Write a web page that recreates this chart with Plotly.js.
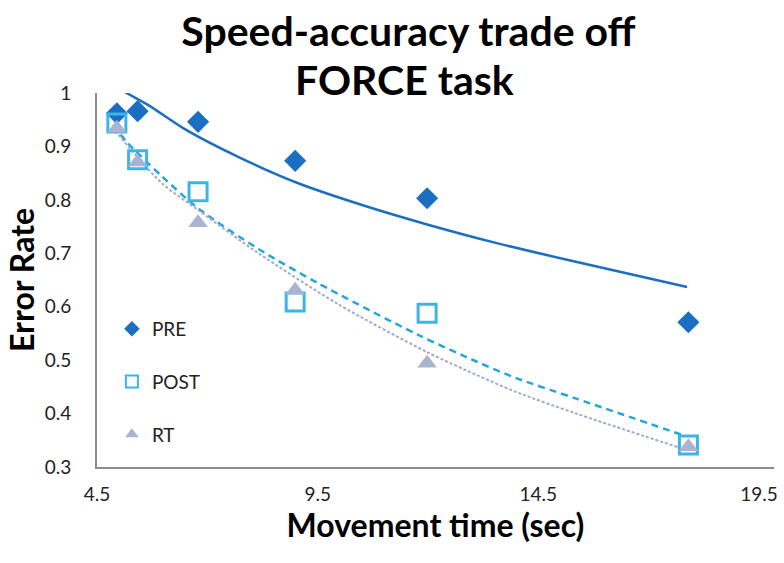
<!DOCTYPE html>
<html>
<head>
<meta charset="utf-8">
<script src="https://cdn.plot.ly/plotly-3.0.1.min.js"></script>
<style>
  html, body { margin: 0; padding: 0; background: #fff; }
  #chart { width: 784px; height: 563px; }
</style>
</head>
<body>
<div id="chart"></div>
<script>
// Speed-accuracy trade off, FORCE task: error rate vs movement time,
// three sessions plus their fitted trend curves.

const moveTime = [4.95, 5.42, 6.79, 8.99, 11.98, 17.9];
const errPre  = [0.962, 0.966, 0.946, 0.873, 0.803, 0.571];
const errPost = [0.944, 0.875, 0.815, 0.609, 0.588, 0.341];
const errRt   = [0.934, 0.871, 0.757, 0.631, 0.494, 0.338];

// trend curves
const preTrendX  = [4.90, 5.13, 5.69, 6.52, 7.71, 9.06, 10.63, 11.98, 13.56, 15.35, 17.87];
const preTrendY  = [1.014, 1.002, 0.976, 0.931, 0.880, 0.831, 0.787, 0.754, 0.719, 0.684, 0.637];
const postTrendX = [4.86, 5.20, 5.96, 6.81, 8.16, 9.51, 11.76, 13.11, 14.01, 15.36, 17.83];
const postTrendY = [0.940, 0.906, 0.845, 0.783, 0.708, 0.644, 0.548, 0.497, 0.466, 0.428, 0.358];
const rtTrendX   = [4.84, 5.96, 6.81, 8.16, 9.96, 11.98, 13.11, 14.01, 15.36, 17.67];
const rtTrendY   = [0.936, 0.832, 0.780, 0.700, 0.605, 0.515, 0.472, 0.440, 0.400, 0.337];

const xTicks = [4.5, 9.5, 14.5, 19.5];
const yTicks = [0.3, 0.4, 0.5, 0.6, 0.7, 0.8, 0.9, 1];

const C_PRE = "#1b6fc2", C_POST = "#3cb4e9", C_RT = "#a9b3d2";

const traces = [
  { x: preTrendX, y: preTrendY, mode: "lines", showlegend: false, hoverinfo: "skip",
    line: { color: C_PRE, width: 2.5, shape: "spline", smoothing: 0.8 } },
  { x: postTrendX, y: postTrendY, mode: "lines", showlegend: false, hoverinfo: "skip",
    line: { color: "#23a6df", width: 2.5, dash: "7px,5px", shape: "spline", smoothing: 0.8 } },
  { x: rtTrendX, y: rtTrendY, mode: "lines", showlegend: false, hoverinfo: "skip",
    line: { color: "#a3a9cc", width: 2, dash: "3px,2px", shape: "spline", smoothing: 0.8 } },
  { x: moveTime, y: errPre, mode: "markers", name: "PRE", legendgroup: "a",
    marker: { symbol: "diamond", size: 17, color: C_PRE } },
  { x: moveTime, y: errPost, mode: "markers", name: "POST", legendgroup: "b",
    marker: { symbol: "square-open", size: 18, color: C_POST, line: { width: 3 } } },
  { x: moveTime, y: errRt, mode: "markers", name: "RT", legendgroup: "c",
    marker: { symbol: "triangle-up", size: 17, color: C_RT } },
];

const titleFont = { family: "Lato, sans-serif", size: 41, color: "#000" };

const layout = {
  width: 784, height: 563,
  paper_bgcolor: "#fff", plot_bgcolor: "#fff",
  margin: { l: 97, r: 6, t: 93, b: 96 },
  font: { family: "Lato, 'Open Sans', sans-serif", color: "#222" },
  title: {
    text: "<b>Speed-accuracy trade off</b>",
    font: titleFont,
    x: 0.521, xanchor: "center", xref: "container",
    y: 0.944, yanchor: "middle", yref: "container",
  },
  annotations: [{
    text: "<b>FORCE task</b>", font: titleFont, showarrow: false,
    xref: "paper", yref: "paper", x: 0.454, y: 1.035, xanchor: "center", yanchor: "middle",
  }],
  xaxis: {
    range: [4.5, 19.84], tickvals: xTicks, ticktext: xTicks.map(String),
    showgrid: false, zeroline: false, showline: true, linecolor: "#8c8c8c", linewidth: 2,
    ticks: "", tickfont: { size: 19, color: "#222" }, ticklabelstandoff: 9,
    automargin: true,
    title: { text: "<b>Movement time (sec)</b>", font: { size: 32, color: "#000" }, standoff: 0 },
  },
  yaxis: {
    range: [0.3, 1], tickvals: yTicks, ticktext: yTicks.map(String),
    showgrid: false, zeroline: false, showline: true, linecolor: "#8c8c8c", linewidth: 2,
    ticks: "", tickfont: { size: 19, color: "#222" }, ticklabelstandoff: 20,
    automargin: true,
    title: { text: "<b>Error Rate</b>", font: { size: 32, color: "#000" }, standoff: 0 },
  },
  showlegend: true,
  legend: {
    x: 0.022, y: 0.42, xanchor: "left", yanchor: "top",
    bgcolor: "rgba(0,0,0,0)", font: { size: 19, color: "#222" },
    tracegroupgap: 25, itemsizing: "constant",
  },
};

Plotly.newPlot("chart", traces, layout, { displayModeBar: false, staticPlot: true });
</script>
</body>
</html>
